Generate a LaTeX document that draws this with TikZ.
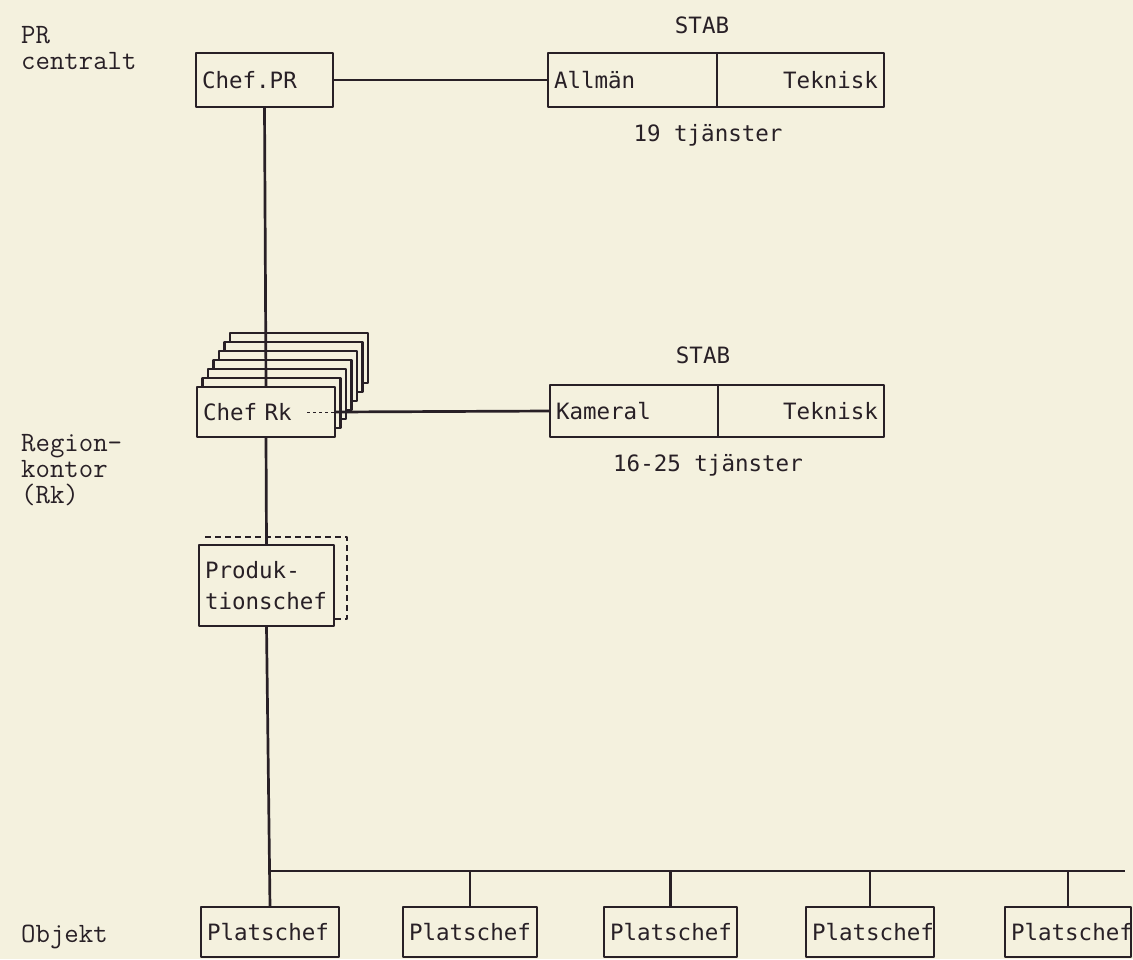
\documentclass[tikz,border=0pt]{standalone}
\usepackage{fontspec}
\usetikzlibrary{positioning}
\newfontfamily\typefont{DejaVu Sans Mono}
\definecolor{paper}{RGB}{244,241,222}
\definecolor{ink}{RGB}{40,32,38}

\begin{document}
\begin{tikzpicture}[x=1pt, y=-1pt, line join=round]

  \def\Lw{2.7pt}

  % Styles
  \tikzset{
    org-box/.style={draw=ink, line width=\Lw, fill=paper, inner sep=6pt, outer sep=0pt, align=left,
      font=\typefont\fontsize{22.5}{31}\selectfont, text=ink, anchor=north west},
    org-line/.style={draw=ink, line width=\Lw},
    side-label/.style={align=left, anchor=west, inner sep=0pt,
      font=\ttfamily\fontsize{28}{26}\selectfont, text=ink},
    stab-label/.style={font=\typefont\fontsize{22.5}{26}\selectfont, text=ink},
  }

  % Paper
  \fill[paper] (0,0) rectangle (1133,959);
  \useasboundingbox (0,0) rectangle (1133,959);

  % Level labels
  \node[side-label] (lbl-pr) at (21,48) {PR\\centralt};
  \node[side-label] (lbl-rk) at (21,470) {Region-\\kontor\\(Rk)};
  \node[side-label] (lbl-obj) at (21,937) {Objekt};

  % PR centralt
  \node[org-box, text width=125pt, minimum height=54pt] (chefpr) at (196,53) {Chef.PR};
  \node[org-box, text width=157pt, minimum height=54pt] (allman) at (548,53) {Allmän};
  \node[org-box, text width=155pt, minimum height=54pt, align=right] (teknisk1) at (allman.north east) {Teknisk};
  \node[stab-label] (stab1) at (702,25) {STAB};
  \node[stab-label] (staff1) at (708,135) {19 tjänster};
  \draw[org-line] (chefpr.east) -- (allman.west);

  % Regionkontor, stacked cards
  \foreach \i in {6,...,1}
    \draw[org-line, fill=paper] (197+5.5*\i, 387-9*\i) rectangle ++(138,50);
  \node[org-box, text width=126pt, minimum height=50pt] (chefrk) at (197,387) {Chef Rk};
  \node[org-box, text width=156pt, minimum height=52pt] (kameral) at (550,385) {Kameral};
  \node[org-box, text width=154pt, minimum height=52pt, align=right] (teknisk2) at (kameral.north east) {Teknisk};
  \node[stab-label] (stab2) at (703,355) {STAB};
  \node[stab-label] (staff2) at (708,465) {16-25 tjänster};
  \draw[ink, thin, dashed] ([xshift=-28pt]chefrk.east) -- (chefrk.east);
  \draw[org-line] (chefrk.east) -- (kameral.west);
  \draw[org-line] (chefpr.south) -- (chefrk.north);

  % Produktionschef
  \draw[ink, line width=\Lw, dash pattern=on 6pt off 4pt] (205,537) -- (347,537) -- (347,619) -- (334,619);
  \node[org-box, text width=123pt, minimum height=81pt] (prod) at (199,545) {Produk-\\tionschef};
  \draw[org-line] (chefrk.south) -- (prod.north);

  % Objekt
  \foreach \n/\xa/\xb in {1/201/339, 2/403/537, 3/604/737, 4/806/934, 5/1005/1131} {
    \pgfmathsetmacro{\tw}{\xb-\xa-12}
    \node[org-box, text width=\tw pt, minimum height=50pt] (plats\n) at (\xa,907) {\mbox{Platschef}};
  }
  \coordinate (bus-y) at (0,871);
  \coordinate (bus-e) at (1125,871);
  \draw[org-line] (prod.south) -- (plats1.north);
  \draw[org-line] (plats1.north |- bus-y) -- (bus-e);
  \foreach \n in {2,...,5}
    \draw[org-line] (plats\n.north |- bus-y) -- (plats\n.north);

\end{tikzpicture}
\end{document}
